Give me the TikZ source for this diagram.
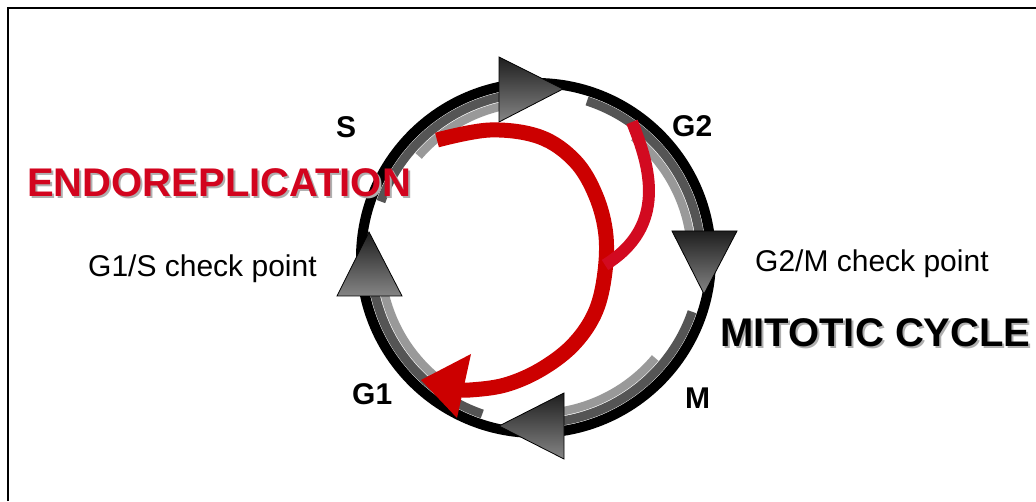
\documentclass[tikz,border=0pt]{standalone}
\usepackage{fontspec}
\setmainfont{Liberation Sans}
\definecolor{dkgray}{RGB}{85,85,85}
\definecolor{ltgray}{RGB}{153,153,153}
\definecolor{redA}{RGB}{204,0,0}
\definecolor{redB}{RGB}{210,10,32}
\definecolor{endored}{RGB}{210,4,30}
\definecolor{shadowgray}{RGB}{175,175,175}
\begin{document}
\begin{tikzpicture}[x=1pt,y=1pt,
  blk/.style={line width=10pt, draw=black},
  dk/.style={line width=9pt, draw=dkgray},
  lt/.style={line width=8.5pt, draw=ltgray},
  arrowtri/.style={top color=black!88, bottom color=black!48, draw=black, line width=0.8pt, line join=miter},
  redmain/.style={draw=redA, line width=15pt},
  redbranch/.style={draw=redB, line width=12pt},
  lab/.style={font=\fontsize{30}{35}\selectfont\bfseries, anchor=base west, inner sep=0pt},
  cp/.style={font=\fontsize{30}{35}\selectfont, anchor=base west, inner sep=0pt},
  big/.style={font=\fontsize{40}{45}\selectfont\bfseries, anchor=base west, inner sep=0pt}]
\useasboundingbox (0,0) rectangle (1036,501);
% frame
\draw[line width=2pt] (7.5,0) -- (7.5,492.5) -- (1036,492.5);
% cycle rings
\coordinate (C) at (536,243);
\draw[blk] (C) circle[radius=175pt];
\draw[dk] ([shift={(536,243)}]95:165pt) arc[start angle=95, end angle=160, radius=165pt];
\draw[dk] ([shift={(536,243)}]5:165pt) arc[start angle=5, end angle=72, radius=165pt];
\draw[dk] ([shift={(536,243)}]-85:165pt) arc[start angle=-85, end angle=-19, radius=165pt];
\draw[dk] ([shift={(536,243)}]190:165pt) arc[start angle=190, end angle=251, radius=165pt];
\draw[lt] ([shift={(536,243)}]95:155.5pt) arc[start angle=95, end angle=139, radius=155.5pt];
\draw[lt] ([shift={(536,243)}]8:155.5pt) arc[start angle=8, end angle=51, radius=155.5pt];
\draw[lt] ([shift={(536,243)}]-85:155.5pt) arc[start angle=-85, end angle=-40, radius=155.5pt];
\draw[lt] ([shift={(536,243)}]190:155.5pt) arc[start angle=190, end angle=229, radius=155.5pt];
% direction arrows
\shadedraw[arrowtri] (499,444) -- (499,379) -- (563,412) -- cycle;
\shadedraw[arrowtri] (672,270) -- (737,270) -- (704,207) -- cycle;
\shadedraw[arrowtri] (564,108) -- (564,42) -- (499,75) -- cycle;
\shadedraw[arrowtri] (369,269) -- (337,205) -- (402,205) -- cycle;
% endoreplication loop
\draw[redmain] plot[smooth, tension=0.6] coordinates {(437,361) (490,371) (540,364) (575,340) (596,305) (606,265) (604,222) (594,186) (572,155) (540,131) (505,116) (470,111) (455,112)};
\fill[redA] (471,147) -- (421,121) -- (457,83) -- cycle;
\draw[redbranch] (632,379) .. controls (650,335) and (668,275) .. (605,236);
% labels
\node[lab] (S) at (336,363) {S};
\node[lab] (G2) at (672,364) {G2};
\node[lab] (G1) at (352,96) {G1};
\node[lab] (M) at (685,93) {M};
\node[cp] (g1s) at (88,224) {G1/S check point};
\node[cp] (g2m) at (755,229) {G2/M check point};
\node[big, text=shadowgray] (endoS) at (29,302) {ENDOREPLICATION};
\node[big, text=endored] (endo) at (27,304) {ENDOREPLICATION};
\node[big, text=shadowgray] (mitS) at (722,152) {MITOTIC CYCLE};
\node[big, text=black] (mit) at (720,154) {MITOTIC CYCLE};
\end{tikzpicture}
\end{document}
